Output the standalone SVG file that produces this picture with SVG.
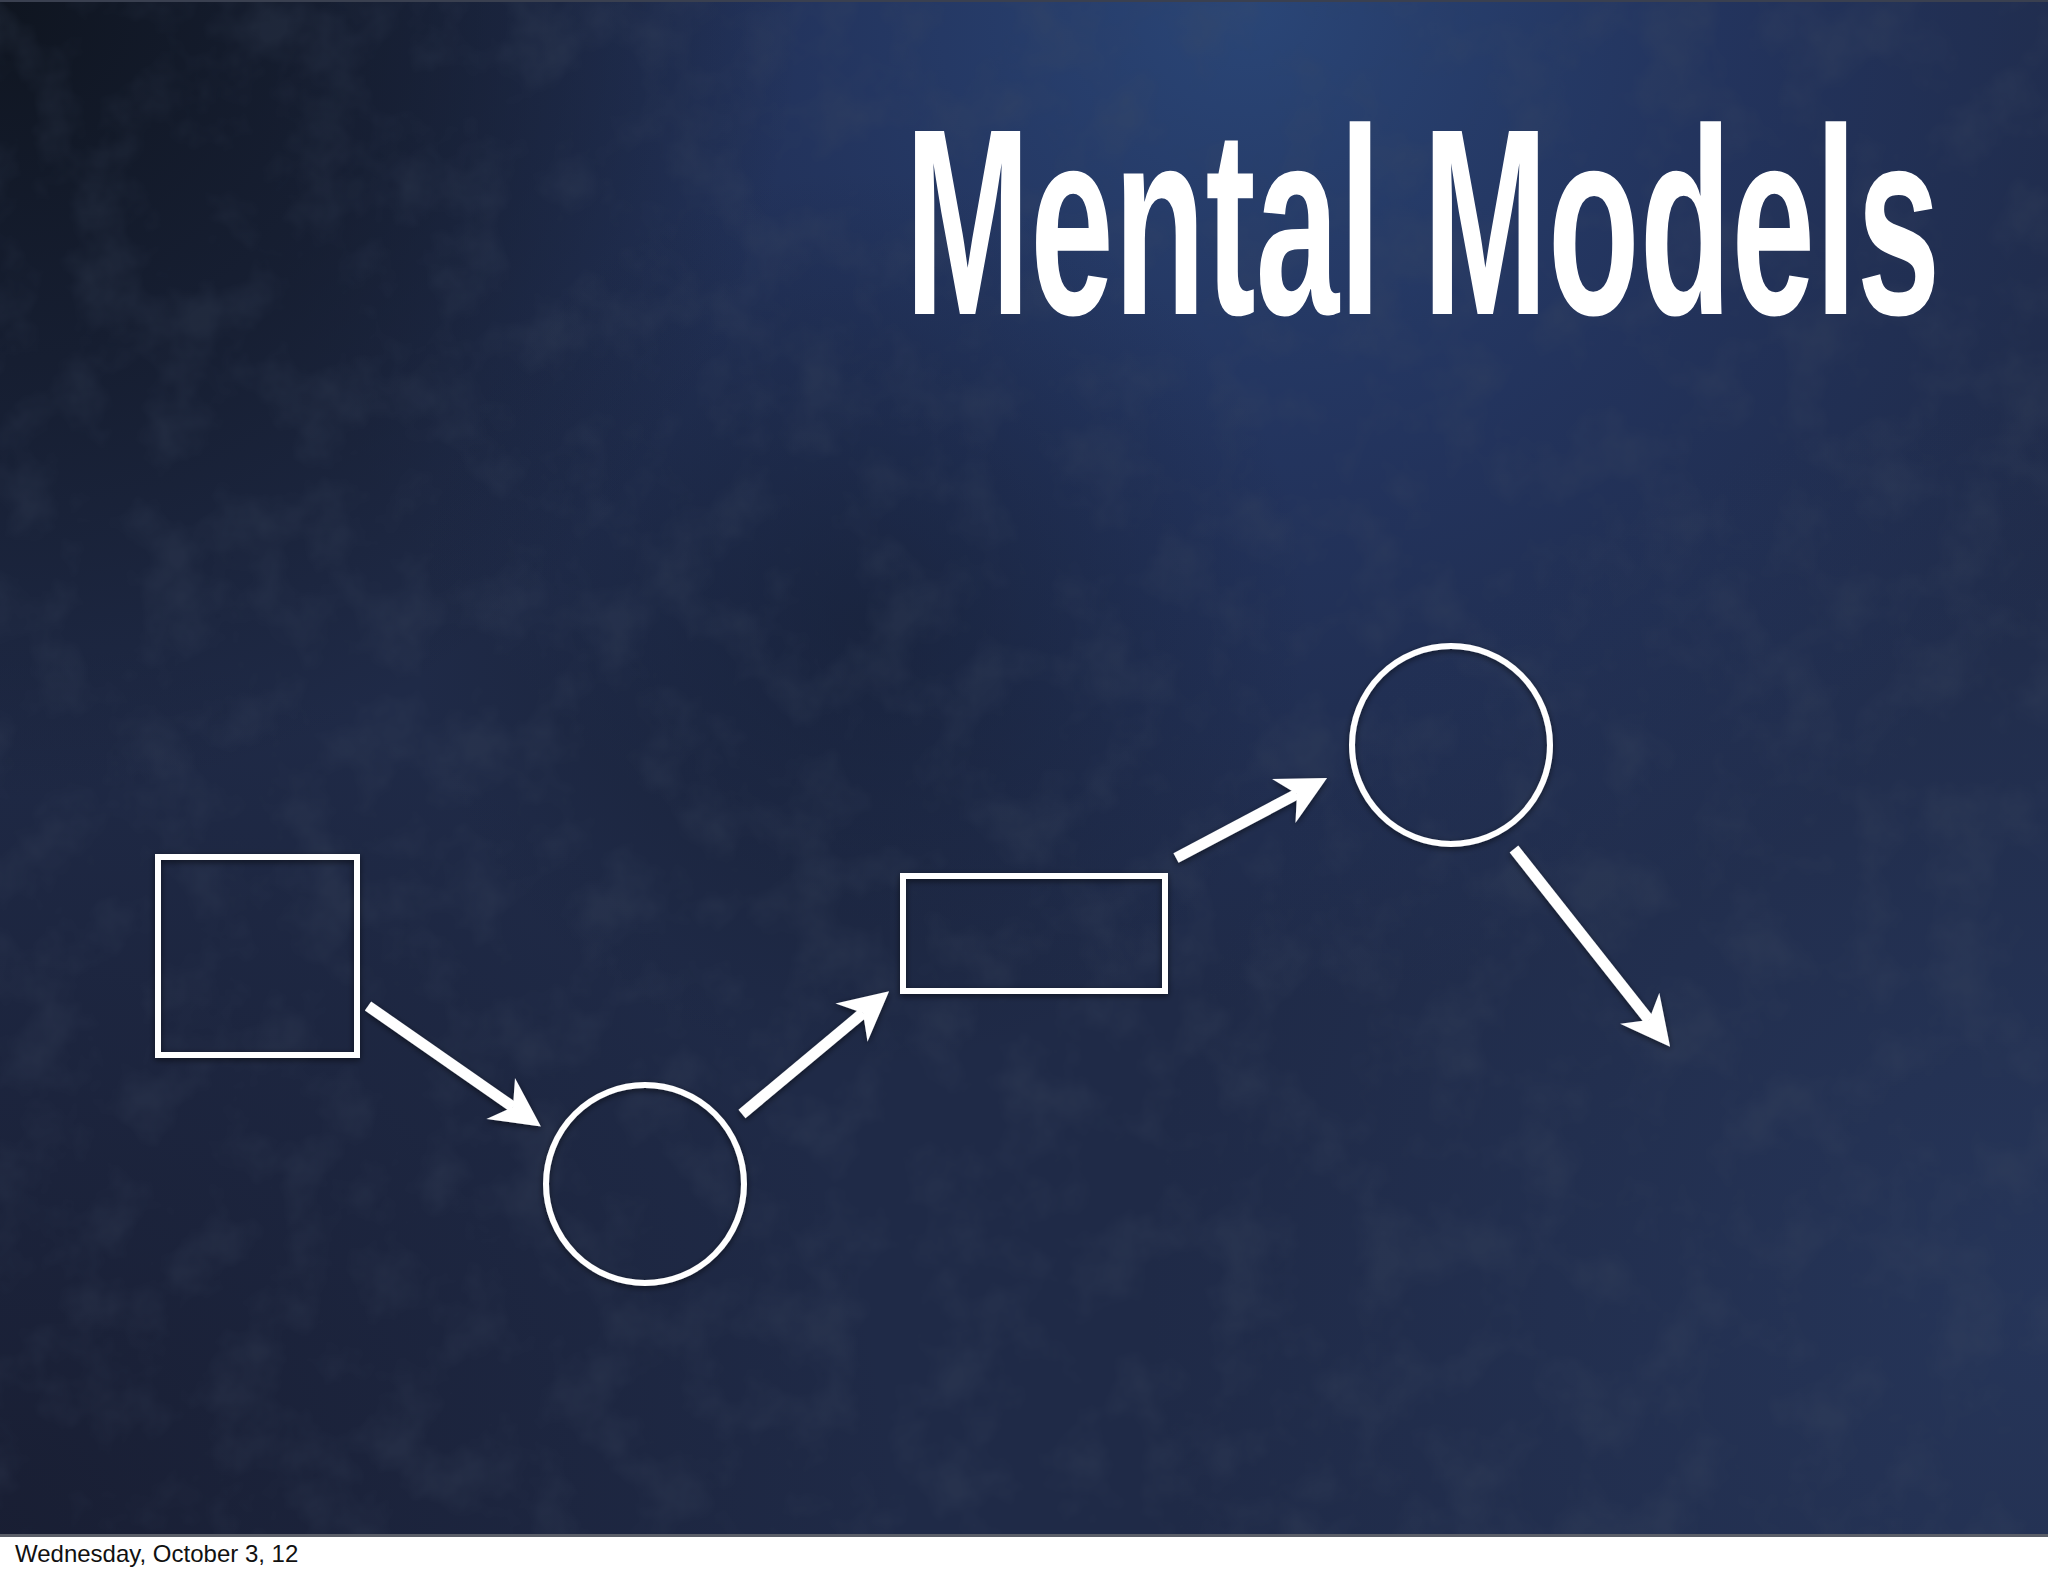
<svg xmlns="http://www.w3.org/2000/svg" width="2048" height="1576" viewBox="0 0 2048 1576">
  <defs>
    <style>
      .shape { fill: none; stroke: #ffffff; stroke-width: 6; }
      .conn { fill: none; stroke: #ffffff; stroke-width: 11; stroke-linecap: butt; }
      .title { font-family: "Liberation Sans", Arial, sans-serif; font-weight: bold; font-size: 266px; fill: #ffffff; }
      .footer { font-family: "Liberation Sans", Arial, sans-serif; font-size: 24px; fill: #111111; }
    </style>
    <radialGradient id="glowTop" cx="1250" cy="0" r="1000" gradientUnits="userSpaceOnUse">
      <stop offset="0" stop-color="#2a4677" stop-opacity="1"/>
      <stop offset="0.5" stop-color="#25396a" stop-opacity="0.6"/>
      <stop offset="1" stop-color="#25396a" stop-opacity="0"/>
    </radialGradient>
    <radialGradient id="darkTL" cx="0" cy="0" r="800" gradientUnits="userSpaceOnUse">
      <stop offset="0" stop-color="#0f1520" stop-opacity="1"/>
      <stop offset="0.5" stop-color="#131a2a" stop-opacity="0.7"/>
      <stop offset="1" stop-color="#131a2a" stop-opacity="0"/>
    </radialGradient>
    <radialGradient id="darkBL" cx="0" cy="1536" r="900" gradientUnits="userSpaceOnUse">
      <stop offset="0" stop-color="#181d31" stop-opacity="0.9"/>
      <stop offset="1" stop-color="#181d31" stop-opacity="0"/>
    </radialGradient>
    <radialGradient id="lightBR" cx="2048" cy="1300" r="900" gradientUnits="userSpaceOnUse">
      <stop offset="0" stop-color="#27375c" stop-opacity="0.85"/>
      <stop offset="1" stop-color="#27375c" stop-opacity="0"/>
    </radialGradient>
    <radialGradient id="blotch" cx="860" cy="620" r="450" gradientUnits="userSpaceOnUse">
      <stop offset="0" stop-color="#121a2c" stop-opacity="0.5"/>
      <stop offset="1" stop-color="#121a2c" stop-opacity="0"/>
    </radialGradient>
    <filter id="grunge" x="0" y="0" width="100%" height="100%">
      <feTurbulence type="fractalNoise" baseFrequency="0.014" numOctaves="4" seed="7" result="n"/>
      <feColorMatrix in="n" type="matrix" values="0 0 0 0 0.05  0 0 0 0 0.07  0 0 0 0 0.12  0 0 0 -2.6 1.45"/>
    </filter>
    <filter id="shadow" x="-20%" y="-20%" width="140%" height="140%">
      <feDropShadow dx="0" dy="2" stdDeviation="3" flood-color="#000000" flood-opacity="0.55"/>
    </filter>
    <marker id="head" markerUnits="userSpaceOnUse" viewBox="-50 -27 52 54" refX="-34" refY="0" markerWidth="52" markerHeight="54" orient="auto">
      <path d="M0,0 L-49,-25 L-34,0 L-49,25 Z" fill="#ffffff"/>
    </marker>
  </defs>

  <g id="background">
    <rect x="0" y="0" width="2048" height="1536" fill="#1f2a47"/>
    <rect x="0" y="0" width="2048" height="1536" fill="url(#glowTop)"/>
    <rect x="0" y="0" width="2048" height="1536" fill="url(#lightBR)"/>
    <rect x="0" y="0" width="2048" height="1536" fill="url(#darkBL)"/>
    <rect x="0" y="0" width="2048" height="1536" fill="url(#darkTL)"/>
    <rect x="0" y="0" width="2048" height="1536" fill="url(#blotch)"/>
    <rect x="0" y="0" width="2048" height="1536" filter="url(#grunge)" opacity="0.25"/>
    <rect x="0" y="0" width="2048" height="2" fill="#3a4050"/>
    <rect x="0" y="1534" width="2048" height="3" fill="#5a5e68"/>
    <rect x="0" y="1537" width="2048" height="39" fill="#ffffff"/>
  </g>

  <g id="title">
    <text class="title" transform="translate(905,314) scale(0.565,1)" x="0" y="0">Mental Models</text>
  </g>

  <g id="node-square" filter="url(#shadow)">
    <rect class="shape" x="158" y="857" width="199" height="198"/>
  </g>
  <g id="node-circle-1" filter="url(#shadow)">
    <circle class="shape" cx="645" cy="1184" r="99"/>
  </g>
  <g id="node-rect" filter="url(#shadow)">
    <rect class="shape" x="903" y="876" width="262" height="115"/>
  </g>
  <g id="node-circle-2" filter="url(#shadow)">
    <circle class="shape" cx="1451" cy="745" r="99"/>
  </g>

  <g id="connectors" filter="url(#shadow)">
    <line class="conn" x1="368" y1="1006" x2="513" y2="1107" marker-end="url(#head)"/>
    <line class="conn" x1="742" y1="1114" x2="863" y2="1013" marker-end="url(#head)"/>
    <line class="conn" x1="1176" y1="858" x2="1297" y2="794" marker-end="url(#head)"/>
    <line class="conn" x1="1514" y1="849" x2="1649" y2="1020" marker-end="url(#head)"/>
  </g>

  <g id="footer">
    <text class="footer" x="15" y="1562">Wednesday, October 3, 12</text>
  </g>
</svg>
